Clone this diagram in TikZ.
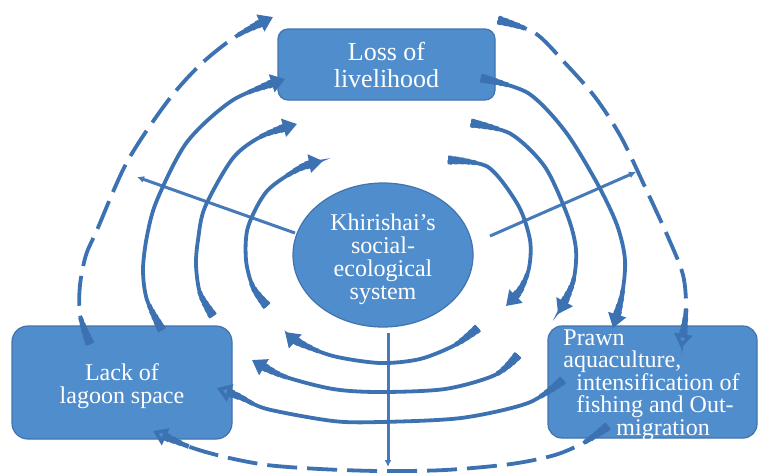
\documentclass[tikz,border=0pt]{standalone}
\usepackage{fontspec}
\setmainfont{Liberation Serif}
\usetikzlibrary{arrows.meta,shapes.geometric}
\definecolor{boxc}{RGB}{80,141,205}
\definecolor{boxline}{RGB}{66,115,172}
\definecolor{arrc}{RGB}{60,114,178}
\definecolor{linec}{RGB}{70,122,184}
\newcommand\curv[3]{%
  \draw[#1] plot[smooth] coordinates {#2};
  \foreach \w/\l in {4.4/2,3.9/5,3.4/8,2.9/11,2.4/14}
    \draw[draw=arrc, line width=\w pt, dash pattern=on \l pt off 3000pt] plot[smooth] coordinates {#2};
  \foreach \w/\l in {4.0/2.5,3.4/5.5,2.8/9,2.3/13}
    \draw[draw=arrc, line width=\w pt, dash pattern=on 0pt off 6.5pt on \l pt off 3000pt] plot[smooth] coordinates {#3};
}
\begin{document}
\begin{tikzpicture}[x=0.5pt,y=-0.5pt,
  box/.style={draw=boxline, line width=0.6pt, fill=boxc, inner sep=0pt},
  ell/.style={ellipse, draw=boxline, line width=0.6pt, fill=boxc, inner sep=0pt, minimum width=90pt, minimum height=72pt},
  txt/.style={text=white, align=center, inner sep=0pt, font=\fontsize{12}{11.5}\selectfont},
  arr/.style={draw=arrc, line width=1.9pt, -{Triangle[width=9pt,length=7pt]}},
  arrh/.style={draw=arrc, line width=1.9pt, -{Triangle[width=9pt,length=7pt,fill=boxc]}},
  dsh/.style={dash pattern=on 15pt off 5pt},
  spoke/.style={draw=linec, line width=1.5pt, -{Latex[length=3.5pt,width=3.5pt]}}
]
\fill[white] (0,0) rectangle (758,472);
\useasboundingbox (0,0) rectangle (758,472);

% boxes and ellipse
\node[box, minimum width=108.5pt, minimum height=35.5pt, rounded corners=5pt] (loss) at (386.5,64.5) {};
\node[box, minimum width=110pt, minimum height=56.5pt, rounded corners=8pt] (lagoon) at (122,382.5) {};
\node[box, minimum width=104.5pt, minimum height=56pt, rounded corners=7pt] (prawn) at (652.5,382) {};
\node[ell] (ses) at (383,255) {};

% spokes
\coordinate (s1a) at (295,233); \coordinate (s1b) at (137,177);
\coordinate (s2a) at (490,236); \coordinate (s2b) at (636,172);
\coordinate (s3a) at (388,333); \coordinate (s3b) at (388,467);
\draw[spoke] (s1a) -- (s1b);
\draw[spoke] (s2a) -- (s2b);
\draw[spoke] (s3a) -- (s3b);

% arrow end points
\coordinate (Ldt) at (90,344);  \coordinate (Ldh) at (273,17);
\coordinate (L3t) at (162,330); \coordinate (L3h) at (285,79);
\coordinate (L2t) at (213,316); \coordinate (L2h) at (297,124);
\coordinate (L1t) at (267,306); \coordinate (L1h) at (323,161);
\coordinate (Rdt) at (498,20);  \coordinate (Rdh) at (681,348);
\coordinate (R3t) at (481,78);  \coordinate (R3h) at (613,328);
\coordinate (R2t) at (471,123); \coordinate (R2h) at (558,314);
\coordinate (R1t) at (448,160); \coordinate (R1h) at (506,306);
\coordinate (B1t) at (478,328); \coordinate (B1h) at (285,332);
\coordinate (B2t) at (518,355); \coordinate (B2h) at (252,360);
\coordinate (B3t) at (563,380); \coordinate (B3h) at (217,388);
\coordinate (Bdt) at (608,426); \coordinate (Bdh) at (153,431);

% left group: lagoon -> livelihood
\curv{arr,dsh}{(Ldt) (80,315) (80,285) (86,255) (97,230) (127,162) (167,102) (200,65) (235,37) (Ldh)}
  {(Ldh) (235,37) (200,65) (167,102) (127,162) (97,230) (86,255) (80,285) (80,315) (Ldt)}
\curv{arr}{(L3t) (147,300) (143,270) (147,236) (157,200) (187,142) (233,100) (L3h)}
  {(L3h) (233,100) (187,142) (157,200) (147,236) (143,270) (147,300) (L3t)}
\curv{arr}{(L2t) (200,293) (196,265) (198,240) (205,207) (233,158) (262,136) (L2h)}
  {(L2h) (262,136) (233,158) (205,207) (198,240) (196,265) (200,293) (L2t)}
\curv{arr}{(L1t) (253,287) (246,260) (248,227) (267,191) (300,168) (L1h)}
  {(L1h) (300,168) (267,191) (248,227) (246,260) (253,287) (L1t)}

% right group: livelihood -> prawn
\curv{arrh,dsh}{(Rdt) (535,33) (565,63) (595,97) (621,137) (645,187) (668,237) (683,275) (686,310) (Rdh)}
  {(Rdh) (686,310) (683,275) (668,237) (645,187) (621,137) (595,97) (565,63) (535,33) (Rdt)}
\curv{arr}{(R3t) (528,93) (565,131) (597,183) (617,225) (625,260) (622,295) (R3h)}
  {(R3h) (622,295) (625,260) (617,225) (597,183) (565,131) (528,93) (R3t)}
\curv{arr}{(R2t) (511,134) (545,167) (568,217) (576,250) (573,282) (R2h)}
  {(R2h) (573,282) (576,250) (568,217) (545,167) (511,134) (R2t)}
\curv{arr}{(R1t) (488,167) (518,205) (530,240) (529,268) (520,290) (R1h)}
  {(R1h) (520,290) (529,268) (530,240) (518,205) (488,167) (R1t)}

% bottom group: prawn -> lagoon
\curv{arr}{(B1t) (455,345) (420,359) (380,363) (333,356) (300,343) (B1h)}
  {(B1h) (300,343) (333,356) (380,363) (420,359) (455,345) (B1t)}
\curv{arr}{(B2t) (495,375) (445,389) (380,392) (333,389) (283,376) (B2h)}
  {(B2h) (283,376) (333,389) (380,392) (445,389) (495,375) (B2t)}
\curv{arrh}{(B3t) (528,403) (461,418) (380,422) (333,421) (267,409) (240,397) (B3h)}
  {(B3h) (240,397) (267,409) (333,421) (380,422) (461,418) (528,403) (B3t)}
\curv{arrh,dsh}{(Bdt) (585,442) (555,455) (511,464) (445,470) (380,471) (320,469) (267,465) (225,457) (190,447) (Bdh)}
  {(Bdh) (190,447) (225,457) (267,465) (320,469) (380,471) (445,470) (511,464) (555,455) (585,442) (Bdt)}

% texts
\node[txt, font=\fontsize{13}{13.5}\selectfont] (losst) at (loss) {Loss of\\livelihood};
\node[txt] (sest) at ([yshift=-2pt]ses.center) {Khirishai’s\\social-\\ecological\\system};
\node[txt] (lagoont) at ([yshift=-2pt]lagoon.center) {Lack of\\lagoon space};
\node[txt, align=left, anchor=north west, font=\fontsize{12}{11.25}\selectfont] (prawnt) at (563,329)
  {Prawn\\aquaculture,\\\hspace{6.5pt}intensification of\\\hspace{6.5pt}fishing and Out-\\\hspace{26.5pt}migration};
\end{tikzpicture}
\end{document}
